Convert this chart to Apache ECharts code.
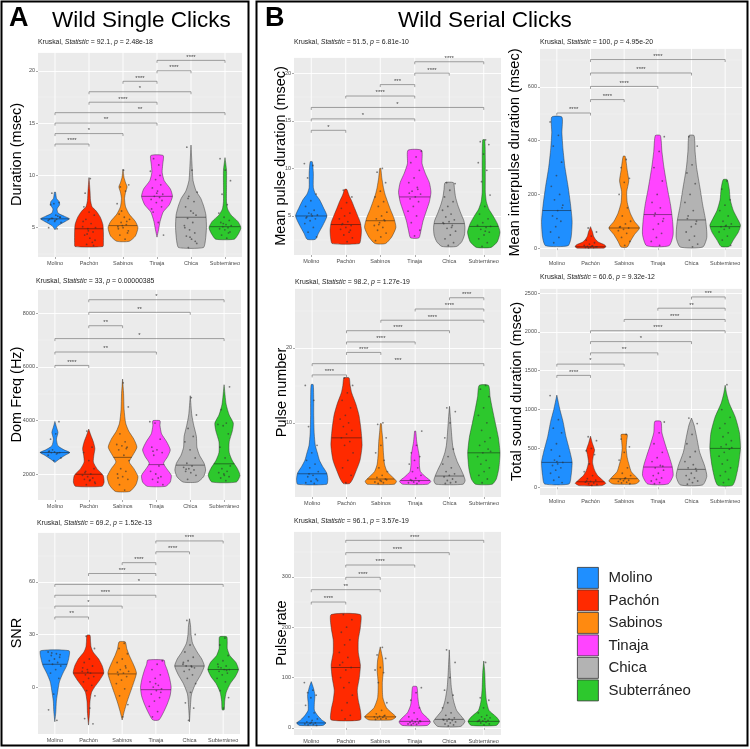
<!DOCTYPE html>
<html><head><meta charset="utf-8">
<script src="https://cdn.jsdelivr.net/npm/echarts@6/dist/echarts.min.js"></script>
<style>html,body{margin:0;padding:0;background:#fff}#c{width:750px;height:749px}</style>
</head><body><div id="c"></div>
<script>
const groups = ['Molino','Pachón','Sabinos','Tinaja','Chica','Subterráneo'];
const groupColors = ['#1F8FFF','#FF2A00','#FF8A10','#FF44FF','#B3B3B3','#2DC82D'];

// ---------- A1 Duration ----------
const durStat = ['92.1','2.48e-18'];
const durMed = [5.85, 4.9, 5.2, 8.0, 6.0, 5.1];
const durProf = [
  [[4.8,0],[5.2,6],[5.6,20],[5.85,28],[6.1,18],[6.4,6],[6.8,4],[7.2,9],[7.5,8],[7.8,3],[8.4,1]],
  [[3.2,27],[3.6,28],[4.5,28],[5.3,27],[6.0,22],[6.6,14],[7.0,6],[7.6,3],[8.5,2],[9.8,0]],
  [[3.7,12],[4.2,24],[5.0,29],[5.6,24],[6.3,12],[7.0,5],[7.8,3],[8.4,5],[8.9,8],[9.3,5],[9.8,2],[10.6,0]],
  [[4.1,0],[4.8,3],[5.6,6],[6.5,12],[7.2,24],[8.0,30],[8.7,26],[9.5,14],[10.3,10],[11.0,11],[11.9,12]],
  [[3.1,24],[3.8,28],[5.0,30],[6.2,29],[7.0,25],[7.8,19],[8.5,10],[9.5,4],[11,2],[12.9,0]],
  [[3.9,18],[4.4,26],[5.0,31],[5.6,25],[6.2,12],[6.8,5],[7.5,3],[9,3],[10.5,3],[11.7,0]]
];
const durPts = [
  [5.7,5.8,5.9,6.0,5.6,5.8,6.1,5.9,5.5,6.2,7.2,7.4,7.3,5.0,4.9,8.3,6.0,5.7],
  [3.4,3.8,4.0,4.3,4.6,4.9,5.1,5.4,5.8,6.2,6.5,7.0,3.6,4.4,5.0,9.7,8.3,3.3,4.7,5.6],
  [3.9,4.3,4.7,5.0,5.1,5.3,5.5,5.8,6.0,6.3,4.5,5.2,7.3,8.5,8.9,9.1,10.5,4.9,5.6,6.6],
  [4.3,5.5,6.5,7.0,7.4,7.7,7.9,8.0,8.2,8.5,8.8,9.1,9.6,10.4,11.0,11.6,7.6,8.3,6.8,10.0],
  [3.1,3.5,3.9,4.2,4.5,4.8,5.2,5.5,5.9,6.2,6.6,7.0,7.5,8.0,8.4,10.5,12.7,3.7,4.1,5.0,6.4,7.8],
  [4.0,4.3,4.6,4.8,4.9,5.0,5.1,5.2,5.3,5.5,5.7,6.0,6.4,7.2,8.2,9.5,10.5,11.6,4.5,5.4]
];
const durBr = [[0,1,13,'****'],[0,2,14,'*'],[0,3,15,'**'],[0,5,16,'**'],[1,3,17,'****'],[1,4,18,'*'],[2,3,19,'****'],[3,4,20,'****'],[3,5,21,'****']];

// ---------- A2 Dom Freq ----------
const domStat = ['33','0.00000385'];
const domMed = [2800, 1990, 2620, 2350, 2330, 2380];
const domProf = [
  [[2430,0],[2550,8],[2700,20],[2800,29],[2900,18],[3050,6],[3300,3],[3550,6],[3750,3],[3960,0]],
  [[1540,26],[1700,30],[1950,28],[2200,16],[2450,9],[2700,10],[2950,12],[3200,9],[3450,4],[3675,0]],
  [[1350,14],[1600,26],[1900,30],[2200,22],[2450,13],[2700,20],[3000,28],[3300,22],[3600,12],[3900,6],[4400,3],[5000,2],[5540,0]],
  [[1540,18],[1700,27],[1950,29],[2200,20],[2400,14],[2650,22],[2900,27],[3200,20],[3500,10],[3800,7],[3985,7]],
  [[1700,14],[1900,26],[2150,30],[2400,27],[2700,18],[3000,13],[3400,12],[3800,7],[4200,3],[4920,0]],
  [[1700,24],[1950,31],[2200,26],[2500,16],[2800,10],[3200,10],[3600,16],[3900,18],[4200,10],[4600,4],[5330,0]]
];
const domPts = [
  [2700,2750,2800,2800,2820,2850,2780,2900,2600,3500,3300,3950,2500,2830],
  [1600,1700,1750,1800,1850,1900,1950,2000,2100,2200,2500,2800,3000,3600,1650,1780,2050],
  [1400,1600,1800,1900,2000,2100,2200,2500,2700,2900,3000,3050,3100,3200,3500,4500,5400,1850,2950],
  [1600,1700,1800,1900,2000,2100,2300,2700,2800,2900,3000,3300,3900,3950,1850,2850],
  [1800,1950,2050,2100,2150,2200,2250,2300,2400,2600,2900,3200,3400,3700,4200,4850,2180],
  [1750,1850,1900,2000,2050,2100,2200,2300,2600,3000,3500,3800,3850,3900,4400,5250,1950]
];
const domBr = [[0,1,6050,'****'],[0,3,6550,'**'],[0,5,7050,'*'],[1,2,7530,'**'],[1,4,8030,'**'],[1,5,8500,'*']];

// ---------- A3 SNR ----------
const snrStat = ['69.2','1.52e-13'];
const snrMed = [13, 8, 7.5, -1.5, 12, 10];
const snrProf = [
  [[-19.8,0],[-14,2],[-8,3],[-2,6],[3,9],[8,16],[12,23],[16,27],[20.7,28]],
  [[-21.7,0],[-15,2],[-8,3],[-3,6],[0,12],[4,22],[8,30],[12,27],[16,20],[20,9],[23,5],[26,4],[29.6,3]],
  [[-18.8,0],[-14,4],[-8,10],[-3,16],[2,22],[8,28],[13,22],[18,14],[22,9],[25.8,6]],
  [[-18.8,6],[-15,14],[-10,22],[-5,28],[0,30],[5,27],[10,22],[13,18],[15.4,16]],
  [[-19.8,0],[-10,2],[-4,4],[2,12],[7,22],[12,29],[16,24],[20,15],[25,6],[30,3],[35,2],[39,0]],
  [[-13,2],[-8,3],[-3,6],[2,14],[6,24],[10,30],[14,25],[18,13],[22,8],[26,8],[28.7,7]]
];
const snrPts = [
  [20,19,18,17,16,15,14,13,12,10,8,5,-4,-13,-19,19.5,18.5],
  [29,22,16,14,12,10,9,8,7,6,5,3,1,-2,-5,-12,-18,-21,8.5,11],
  [25,22,19,16,14,12,10,9,8,7,6,4,2,-1,-5,-10,-17,8.5,11],
  [15,13,10,7,5,3,1,0,-1,-2,-4,-6,-8,-11,-14,-17,-3,2],
  [38,30,24,20,17,15,13,12,12,11,10,9,7,5,2,-3,-9,-12,-19,14,11.5],
  [28,24,18,15,13,12,11,10,10,9,8,7,5,3,-2,-6,-12,11.5,9.5]
];
const snrBr = [[0,1,40,'**'],[0,2,46.2,'*'],[0,3,52.4,'****'],[0,5,58.6,'*'],[1,3,64.8,'***'],[2,3,71,'****'],[3,4,77.2,'****'],[3,5,83.4,'****']];

// ---------- B1 Mean pulse duration ----------
const mpdStat = ['51.5','6.81e-10'];
const mpdMed = [5.0, 4.1, 4.5, 7.0, 4.2, 3.9];
const mpdProf = [
  [[2.55,8],[3.2,14],[4,22],[5,30],[5.8,24],[6.7,16],[7.3,8],[8,4],[9.5,4],[10.7,2]],
  [[2.1,26],[2.7,29],[3.5,30],[4.3,28],[5.0,23],[5.8,17],[6.5,12],[7.2,6],[7.8,2]],
  [[2.1,10],[2.8,22],[3.8,30],[4.8,26],[5.6,20],[6.5,14],[7.3,9],[8,6],[9,3],[10,1]],
  [[2.7,8],[3.5,12],[4.5,16],[5.5,22],[6.5,28],[7.5,31],[8.5,28],[9.5,20],[10.5,14],[11.9,13]],
  [[1.8,14],[2.3,24],[3,29],[3.8,30],[4.5,28],[5.3,22],[6.2,16],[7,12],[7.8,10],[8.5,8]],
  [[1.7,14],[2.3,26],[3.3,31],[4.2,26],[5,18],[5.7,10],[6.5,5],[7.5,3],[9,3],[11,3],[13,2]]
];
const mpdPts = [
  [10.5,10.3,9.0,7.3,6.6,6.0,5.6,5.3,5.1,5.0,4.9,4.7,4.5,4.2,3.8,3.3,2.8,5.2,4.8],
  [7.7,7.0,6.4,5.8,5.3,5.0,4.7,4.4,4.2,4.0,3.8,3.6,3.3,3.0,2.7,2.3,4.1,3.5],
  [10.0,9.6,8.5,7.6,7.0,6.5,6.0,5.4,5.0,4.7,4.5,4.3,4.0,3.8,3.5,3.2,2.8,2.4,4.6,4.1],
  [11.8,11.2,10.6,9.8,9.0,8.5,8.0,7.6,7.3,7.0,6.8,6.5,6.0,5.5,5.0,4.3,3.5,2.9,7.4,7.8],
  [8.5,8.4,7.7,7.0,6.5,6.0,5.6,5.2,4.9,4.6,4.4,4.2,4.0,3.7,3.4,3.0,2.6,2.2,1.9,4.3,3.8],
  [13.0,12.8,12.5,11.5,10.6,9.8,8.6,7.2,6.0,5.2,4.7,4.3,4.0,3.8,3.6,3.3,3.0,2.6,2.2,1.8,3.9,3.4]
];
const mpdBr = [[0,1,14,'*'],[0,3,15.2,'*'],[0,5,16.4,'*'],[1,3,17.6,'****'],[2,3,18.8,'***'],[3,4,20,'****'],[3,5,21.2,'****']];

// ---------- B2 Mean interpulse duration ----------
const ipdStat = ['100','4.95e-20'];
const ipdMed = [140, 5, 75, 125, 105, 80];
const ipdProf = [
  [[9,22],[40,28],[100,30],[160,27],[230,22],[300,16],[370,12],[430,10],[488,10]],
  [[0,26],[5,30],[12,28],[22,16],[32,10],[45,6],[60,4],[80,0]],
  [[4,6],[25,12],[50,20],[75,30],[100,20],[130,12],[170,6],[210,5],[250,9],[290,6],[342,2]],
  [[9,22],[50,30],[100,29],[160,25],[220,19],[300,12],[360,8],[419,5]],
  [[4,22],[40,30],[100,28],[160,22],[220,17],[300,10],[360,7],[419,5]],
  [[6,8],[30,16],[60,26],[85,30],[110,24],[140,16],[180,10],[220,8],[255,4]]
];
const ipdPts = [
  [470,420,380,320,270,230,200,180,160,140,120,100,80,60,40,20,150,110],
  [75,60,45,30,20,15,10,8,6,5,4,3,2,1,5,7],
  [330,300,260,245,200,150,120,100,90,80,75,70,65,55,40,25,10,78],
  [415,360,300,250,200,170,150,130,110,90,70,55,40,25,10,120,100],
  [415,380,310,280,240,200,170,140,120,100,80,60,45,30,15,5,110,90],
  [250,220,180,160,140,120,100,90,85,80,75,70,60,45,30,10,82]
];
const ipdBr = [[0,1,503,'****'],[1,2,553,'****'],[1,3,602,'****'],[1,4,652,'****'],[1,5,702,'****']];

// ---------- B3 Pulse number ----------
const pnumStat = ['98.2','1.27e-19'];
const pnumMed = [3.2, 8, 2.5, 2.3, 2.9, 6];
const pnumProf = [
  [[1.8,28],[2.5,30],[3.3,28],[4.2,20],[5,14],[6,10],[7,6],[8.5,4],[11,3],[13,3],[15.1,2]],
  [[1.9,6],[2.5,12],[3.5,18],[5,26],[7,30],[9,28],[11,24],[12.5,18],[14,10],[15,7],[16,5]],
  [[1.8,26],[2.2,30],[2.8,22],[3.5,12],[4.5,7],[6,5],[7.5,4],[9,2],[9.9,1]],
  [[1.8,24],[2.2,30],[2.8,20],[3.5,10],[4.5,8],[5.5,8],[6.3,6],[7.5,3],[8.9,1]],
  [[1.8,26],[2.3,30],[3,27],[3.8,22],[4.8,15],[6,9],[7,6],[8.5,4],[10.5,2],[12.2,0]],
  [[1.8,16],[2.5,24],[4,29],[6,31],[8,28],[10,22],[12,16],[13.5,12],[15,9]]
];
const pnumPts = [
  [15,13,9.5,7,6,5,4.5,4,3.5,3,2.8,2.5,2.2,2,1.9,3.2,2.3],
  [16,15,14,13,12,11,10.5,10,9.5,9,8.5,8,7.5,7,6,5,4,3,2],
  [10,9.8,8,7,6,5,4,3.5,3,2.7,2.5,2.3,2.1,2,1.9,2.4,2.2],
  [8.9,7,6,5.5,5,4.5,4,3.5,3,2.6,2.4,2.2,2.1,2,1.9,2.3],
  [12,11.5,10,8,6.5,5.5,4.5,4,3.5,3.2,3,2.8,2.5,2.3,2.1,2,1.9],
  [15,14.5,13.5,12,11,10,9,8,7.5,7,6.5,6,5.5,5,4.5,4,3.5,3,2.5,2,6.2]
];
const pnumBr = [[0,1,16.4,'****'],[0,5,17.9,'***'],[1,2,19.4,'****'],[1,3,20.8,'****'],[1,4,22.3,'****'],[2,5,23.7,'****'],[3,5,25.2,'****'],[4,5,26.7,'****']];

// ---------- B4 Total sound duration ----------
const tsdStat = ['60.6','9.32e-12'];
const tsdMed = [320, 70, 110, 260, 230, 500];
const tsdProf = [
  [[42,24],[150,28],[320,30],[450,26],[650,18],[850,12],[1000,6],[1186,0]],
  [[21,22],[50,30],[90,24],[150,14],[220,8],[320,4],[420,6],[480,8],[560,4],[657,0]],
  [[42,22],[80,30],[130,24],[200,14],[280,10],[380,6],[500,4],[600,5],[678,6]],
  [[42,20],[150,30],[270,28],[400,22],[520,16],[700,8],[847,6]],
  [[30,22],[140,30],[270,26],[450,16],[650,10],[800,5],[890,0]],
  [[21,14],[100,20],[280,26],[500,30],[700,28],[900,20],[1080,8],[1200,3],[1313,0]]
];
const tsdPts = [
  [1180,870,760,700,560,480,400,350,320,300,280,250,220,180,130,90,60,330],
  [650,600,500,470,420,300,200,150,110,90,75,65,55,45,35,25,80],
  [680,620,520,450,350,250,180,150,120,100,90,85,75,65,55,45,110],
  [840,700,560,450,380,330,280,250,220,180,150,120,100,80,60,45,270],
  [890,820,680,560,460,390,330,290,250,210,180,150,120,100,80,60,40,240],
  [1320,1000,900,820,760,700,650,600,550,520,490,450,400,350,300,250,200,150,100,60,510]
];
const tsdBr = [[0,1,1440,'****'],[0,2,1585,'*'],[1,3,1730,'**'],[1,4,1875,'*'],[1,5,2015,'****'],[2,5,2160,'****'],[3,5,2305,'**'],[4,5,2450,'***']];

// ---------- B5 Pulse rate ----------
const prStat = ['96.1','3.57e-19'];
const prMed = [10, 120, 22, 13, 17, 13];
const prProf = [
  [[5,22],[10,28],[16,20],[25,12],[35,6],[50,6],[65,7],[80,4],[92,0]],
  [[16,28],[35,28],[55,24],[75,22],[100,26],[125,28],[150,24],[175,24],[200,28],[225,28]],
  [[16,22],[22,30],[30,22],[40,12],[60,5],[90,4],[115,6],[135,5],[161,0]],
  [[5,24],[12,30],[20,24],[30,14],[45,8],[60,6],[82,4]],
  [[3,22],[13,30],[22,24],[35,14],[55,8],[80,4],[110,2],[155,0]],
  [[5,24],[13,30],[22,24],[35,10],[55,5],[80,3],[110,2],[133,0]]
];
const prPts = [
  [90,75,70,65,60,45,30,22,18,15,12,10,9,8,7,6,5,11],
  [225,215,200,190,175,165,150,140,130,120,115,100,90,80,65,50,35,25,18,125],
  [160,145,138,120,115,110,90,50,35,28,25,23,22,21,20,19,18,17,24],
  [80,70,55,40,30,22,18,15,13,12,11,10,9,8,7,6,14],
  [155,130,100,75,65,50,40,30,25,20,18,16,15,14,12,10,8,6,4,17],
  [130,60,55,40,30,25,22,20,18,16,15,14,13,12,10,8,6,14]
];
const prBr = [[0,1,250,'****'],[0,2,274.5,'**'],[1,2,299,'****'],[1,3,323.5,'****'],[1,4,348,'****'],[1,5,372.5,'****']];

// ---------- layout ----------
const FONT = 'Liberation Sans, Arial, sans-serif';
const panels = [
  {name:'Duration (msec)', stat:durStat, med:durMed, prof:durProf, pts:durPts, br:durBr,
   grid:{left:38,top:52,width:204,height:205}, min:2.2, max:21.8, split:4, gap:14, sub:[38,39]},
  {name:'Dom Freq (Hz)', stat:domStat, med:domMed, prof:domProf, pts:domPts, br:domBr,
   grid:{left:38,top:289,width:203,height:211}, min:1030, max:8900, split:4, gap:14, sub:[36,278]},
  {name:'SNR', stat:snrStat, med:snrMed, prof:snrProf, pts:snrPts, br:snrBr,
   grid:{left:38,top:532,width:202,height:202}, min:-26.8, max:88.5, split:4, gap:14, sub:[37,520]},
  {name:'Mean pulse duration (msec)', stat:mpdStat, med:mpdMed, prof:mpdProf, pts:mpdPts, br:mpdBr,
   grid:{left:294,top:57,width:207,height:198}, min:0.9, max:21.7, split:4, gap:6, sub:[294,39]},
  {name:'Mean interpulse duration (msec)', stat:ipdStat, med:ipdMed, prof:ipdProf, pts:ipdPts, br:ipdBr,
   grid:{left:540,top:48,width:202,height:209}, min:-33, max:745, split:4, gap:18, sub:[540,39]},
  {name:'Pulse number', stat:pnumStat, med:pnumMed, prof:pnumProf, pts:pnumPts, br:pnumBr,
   grid:{left:295,top:288,width:206,height:209}, min:0.1, max:28, split:3, gap:6, sub:[295,279]},
  {name:'Total sound duration (msec)', stat:tsdStat, med:tsdMed, prof:tsdProf, pts:tsdPts, br:tsdBr,
   grid:{left:540,top:288,width:202,height:207}, min:-100, max:2565, split:5, gap:16, sub:[540,274]},
  {name:'Pulse rate', stat:prStat, med:prMed, prof:prProf, pts:prPts, br:prBr,
   grid:{left:294,top:531,width:207,height:204}, min:-14, max:391, split:4, gap:5, sub:[294,518]}
];

function interpWidth(prof, v) {
  for (let i = 1; i < prof.length; i++) {
    const a = prof[i-1], b = prof[i];
    if (v >= a[0] && v <= b[0]) return a[1] + (b[1]-a[1]) * (v-a[0]) / (b[0]-a[0]);
  }
  return 0;
}
function makeViolin(prof, color) {
  return function(params, api) {
    const g = api.value(0), med = api.value(1);
    const band = api.size([1, 0])[0];
    const cs = params.coordSys;
    const k = band / 33 / 2;
    const cx = api.coord([g, prof[0][0]])[0];
    const left = [], right = [];
    prof.forEach(function(p) {
      const y = api.coord([g, p[0]])[1];
      left.push([cx - p[1]*k, y]); right.push([cx + p[1]*k, y]);
    });
    const pts = left.concat(right.reverse());
    const my = api.coord([g, med])[1];
    const mw = interpWidth(prof, med) * k;
    return {type:'group', children:[
      {type:'line', shape:{x1:cx, y1:cs.y, x2:cx, y2:cs.y+cs.height}, style:{stroke:'#fff', lineWidth:0.9}},
      {type:'polygon', shape:{points:pts, smooth:0.2}, style:{fill:color, stroke:'rgba(40,40,40,0.75)', lineWidth:0.6}},
      {type:'line', shape:{x1:cx-mw, y1:my, x2:cx+mw, y2:my}, style:{stroke:'rgba(20,20,20,0.8)', lineWidth:0.6}}
    ]};
  };
}
function renderPoint(params, api) {
  const c = api.coord([api.value(0), api.value(1)]);
  const band = api.size([1, 0])[0];
  const j = api.value(2);
  const off = (((j * 0.6180339887) % 1) - 0.5) * 0.4 * band;
  return {type:'circle', shape:{cx:c[0]+off, cy:c[1], r:0.9}, style:{fill:'rgba(50,50,50,0.6)'}};
}
function makeBracket(br) {
  return function(params, api) {
    const a = api.coord([api.value(0), api.value(2)]);
    const b = api.coord([api.value(1), api.value(2)]);
    const t = 2.5;
    return {type:'group', children:[
      {type:'polyline', shape:{points:[[a[0],a[1]+t],[a[0],a[1]],[b[0],b[1]],[b[0],b[1]+t]]},
       style:{stroke:'#666', lineWidth:0.6, fill:null}},
      {type:'text', x:(a[0]+b[0])/2, y:a[1]-0.3,
       style:{text:br[params.dataIndex][3], fontSize:6, fill:'#444', align:'center', verticalAlign:'bottom', fontFamily:FONT}}
    ]};
  };
}

const grids = [], xAxes = [], yAxes = [], series = [], titles = [];
titles.push({text:'A', left:9, top:5, padding:0, textStyle:{fontSize:27, fontWeight:'bold', color:'#000', fontFamily:FONT}});
titles.push({text:'Wild Single Clicks', left:52, top:9, padding:0, textStyle:{fontSize:22.5, fontWeight:'normal', color:'#000', fontFamily:FONT}});
titles.push({text:'B', left:265, top:5, padding:0, textStyle:{fontSize:27, fontWeight:'bold', color:'#000', fontFamily:FONT}});
titles.push({text:'Wild Serial Clicks', left:398, top:9, padding:0, textStyle:{fontSize:22.5, fontWeight:'normal', color:'#000', fontFamily:FONT}});

panels.forEach(function(p, pi) {
  grids.push(Object.assign({show:true, backgroundColor:'#EBEBEB', borderWidth:0}, p.grid));
  xAxes.push({type:'category', gridIndex:pi, data:groups, boundaryGap:true,
    axisLine:{show:false}, axisTick:{show:true, alignWithLabel:true, length:2, lineStyle:{color:'#555', width:0.5}},
    axisLabel:{fontSize:5.5, color:'#4D4D4D', margin:3, fontFamily:FONT, interval:0},
    splitLine:{show:false}});
  yAxes.push({type:'value', gridIndex:pi, min:p.min, max:p.max, splitNumber:p.split,
    name:p.name, nameLocation:'middle', nameGap:p.gap, nameMoveOverlap:false,
    nameTextStyle:{fontSize:14.5, color:'#000', fontFamily:FONT},
    axisLine:{show:false}, axisTick:{show:true, length:2, lineStyle:{color:'#555', width:0.5}},
    axisLabel:{fontSize:5.5, color:'#4D4D4D', margin:3, showMinLabel:false, showMaxLabel:false, fontFamily:FONT,
      formatter:function(v){ return String(v); }},
    splitLine:{show:true, lineStyle:{color:'#FFFFFF', width:0.9}},
    minorTick:{show:false, splitNumber:2},
    minorSplitLine:{show:true, lineStyle:{color:'rgba(255,255,255,0.55)', width:0.45}}});
  titles.push({left:p.sub[0], top:p.sub[1], padding:0,
    text:'Kruskal, {i|Statistic} = ' + p.stat[0] + ', {i|p} = ' + p.stat[1],
    textStyle:{fontSize:6.9, fontWeight:'normal', color:'#222', fontFamily:FONT,
      rich:{i:{fontStyle:'italic', fontSize:6.9, color:'#222', fontFamily:FONT}}}});
  groups.forEach(function(g, gi) {
    series.push({type:'custom', name:g, xAxisIndex:pi, yAxisIndex:pi, clip:false, silent:true,
      itemStyle:{color:groupColors[gi]}, data:[[gi, p.med[gi]]],
      renderItem:makeViolin(p.prof[gi], groupColors[gi])});
  });
  const pd = [];
  p.pts.forEach(function(arr, gi) { arr.forEach(function(v, k) { pd.push([gi, v, k + gi*7]); }); });
  series.push({type:'custom', xAxisIndex:pi, yAxisIndex:pi, silent:true, clip:false, data:pd, renderItem:renderPoint});
  series.push({type:'custom', xAxisIndex:pi, yAxisIndex:pi, silent:true, clip:false,
    data:p.br.map(function(b){ return [b[0], b[1], b[2]]; }), renderItem:makeBracket(p.br)});
});

const chart = echarts.init(document.getElementById('c'), null, {renderer:'canvas'});
chart.setOption({
  animation:false,
  backgroundColor:'#fff',
  title:titles,
  grid:grids, xAxis:xAxes, yAxis:yAxes, series:series,
  legend:{data:groups, orient:'vertical', left:577, top:567, padding:0, itemWidth:21, itemHeight:21, itemGap:0.7,
    icon:'rect', selectedMode:false,
    itemStyle:{borderColor:'#333', borderWidth:0.8},
    textStyle:{fontSize:15, color:'#222', fontFamily:FONT, padding:[0,0,0,5]}},
  graphic:[
    {type:'rect', shape:{x:1.5, y:1.5, width:247, height:744}, style:{fill:null, stroke:'#000', lineWidth:2}, silent:true},
    {type:'rect', shape:{x:256.5, y:1.5, width:491, height:744}, style:{fill:null, stroke:'#000', lineWidth:2}, silent:true}
  ]
});
</script></body></html>
